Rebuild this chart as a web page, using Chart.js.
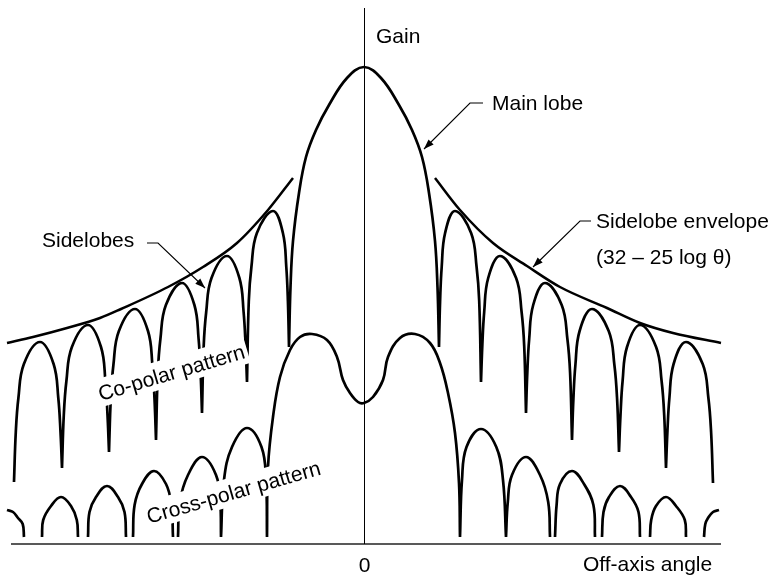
<!DOCTYPE html>
<html>
<head>
<meta charset="utf-8">
<script src="https://cdn.jsdelivr.net/npm/chart.js@4"></script>
<style>
html,body{margin:0;padding:0;background:#fff;}
#wrap{width:773px;height:575px;}
</style>
</head>
<body>
<div id="wrap"><canvas id="c" width="773" height="575"></canvas></div>
<script>
// ---- Data (x: off-axis angle, arbitrary units; y: gain, arbitrary units) ----
// Co-polar pattern: each inner list is one lobe (outer-left lobe first)
const coPolarLobesX = [
  [-35.0, -34.82, -34.56, -34.01, -32.4, -31.04, -30.57, -30.35, -30.2],
  [-30.2, -30.02, -29.76, -29.21, -27.6, -26.3, -25.86, -25.65, -25.5],
  [-25.5, -25.32, -25.06, -24.51, -22.9, -21.6, -21.16, -20.95, -20.8],
  [-20.8, -20.62, -20.36, -19.81, -18.2, -16.96, -16.54, -16.34, -16.2],
  [-16.2, -16.03, -15.78, -15.25, -13.7, -12.46, -12.04, -11.84, -11.7],
  [-11.7, -11.52, -11.26, -10.71, -9.1, -8.11, -7.77, -7.61, -7.5],
  [-7.5, -7.35, -7.1, -6.5, -5.8, -4.8, -3.5, -1.7, 0, 1.7, 3.5, 4.8, 5.8, 6.5, 7.1, 7.35, 7.5],
  [7.5, 7.61, 7.77, 8.11, 9.1, 10.71, 11.26, 11.52, 11.7],
  [11.7, 11.83, 12.02, 12.42, 13.6, 15.21, 15.76, 16.02, 16.2],
  [16.2, 16.33, 16.52, 16.92, 18.1, 19.77, 20.34, 20.61, 20.8],
  [20.8, 20.94, 21.14, 21.56, 22.8, 24.47, 25.04, 25.31, 25.5],
  [25.5, 25.65, 25.86, 26.3, 27.6, 29.21, 29.76, 30.02, 30.2],
  [30.2, 30.34, 30.54, 30.96, 32.2, 33.87, 34.44, 34.71, 34.9]
];
const coPolarLobesY = [
  [6.1, 11.1, 14.5, 17.9, 20.1, 17.9, 14.5, 11.1, 7.5],
  [7.5, 12.8, 16.2, 19.6, 21.8, 19.6, 16.2, 12.8, 9.1],
  [9.1, 14.4, 17.8, 21.2, 23.4, 21.2, 17.8, 14.4, 10.3],
  [10.3, 17.0, 20.4, 23.8, 26.0, 23.8, 20.4, 17.0, 13.0],
  [13.0, 19.7, 23.1, 26.5, 28.7, 26.5, 23.1, 19.7, 16.1],
  [16.1, 24.2, 27.6, 31.0, 33.2, 31.0, 27.6, 24.2, 19.6],
  [19.6, 25.6, 30.2, 35.0, 38.6, 41.3, 43.8, 46.5, 47.6, 46.5, 43.8, 41.3, 38.6, 35.0, 30.2, 25.6, 19.6],
  [19.6, 24.2, 27.6, 31.0, 33.2, 31.0, 27.6, 24.2, 16.1],
  [16.1, 19.7, 23.1, 26.5, 28.7, 26.5, 23.1, 19.7, 13.0],
  [13.0, 17.0, 20.4, 23.8, 26.0, 23.8, 20.4, 17.0, 10.3],
  [10.3, 14.4, 17.8, 21.2, 23.4, 21.2, 17.8, 14.4, 9.1],
  [9.1, 12.8, 16.2, 19.6, 21.8, 19.6, 16.2, 12.8, 7.5],
  [7.5, 11.1, 14.5, 17.9, 20.1, 17.9, 14.5, 11.1, 6.0]
];
// Cross-polar pattern lobes
const crossPolarLobesX = [
  [-35.7, -35.1, -34.6, -34.13, -34.0],
  [-32.2, -32.08, -31.3, -30.3, -29.3, -28.72, -28.6],
  [-27.6, -27.45, -26.8, -25.7, -24.6, -23.95, -23.8],
  [-23.1, -22.94, -22.2, -21.0, -19.8, -19.26, -19.1],
  [-18.6, -18.42, -17.6, -16.2, -14.8, -14.38, -14.3],
  [-14.3, -14.0, -13.2, -11.7, -10.25, -9.8, -9.7],
  [-9.7, -9.6, -9.1, -8.4, -7.4, -6.4, -5.2, -3.7, -2.7, -2.1, -1.4, -0.6, 0, 0.9, 1.9, 2.4, 3.6, 5.1, 6.6, 7.6, 8.4, 9.1, 9.5, 9.6],
  [9.6, 9.8, 10.25, 11.7, 13.23, 13.9, 14.2],
  [14.2, 14.38, 14.8, 16.2, 17.6, 18.42, 18.6],
  [19.1, 19.26, 19.6, 20.8, 22.0, 22.94, 23.1],
  [23.8, 23.95, 24.5, 25.6, 26.7, 27.45, 27.6],
  [28.6, 28.72, 29.2, 30.2, 31.2, 32.08, 32.2],
  [34.0, 34.13, 34.4, 34.9, 35.5]
];
const crossPolarLobesY = [
  [3.3, 3.1, 2.5, 1.9, 0.6],
  [0.6, 2.3, 3.7, 4.6, 3.7, 2.3, 0.6],
  [0.6, 3.1, 4.6, 5.7, 4.6, 3.1, 0.6],
  [0.6, 3.8, 5.9, 7.2, 5.9, 3.8, 0.6],
  [0.6, 4.1, 6.8, 8.6, 6.8, 4.1, 0.6],
  [0.6, 6.3, 9.6, 11.5, 9.6, 6.3, 0.6],
  [0.6, 7.6, 12.6, 16.6, 19.3, 20.6, 20.9, 20.3, 18.6, 16.3, 15.0, 14.1, 14.0, 14.6, 16.3, 18.6, 20.5, 20.9, 20.0, 18.0, 15.0, 11.0, 6.0, 0.6],
  [0.6, 6.3, 9.6, 11.4, 9.6, 6.3, 0.6],
  [0.6, 4.1, 6.8, 8.6, 6.8, 4.1, 0.6],
  [0.6, 3.8, 5.9, 7.2, 5.9, 3.8, 0.6],
  [0.6, 3.1, 4.6, 5.7, 4.6, 3.1, 0.6],
  [0.6, 2.3, 3.7, 4.6, 3.7, 2.3, 0.6],
  [0.6, 1.9, 2.5, 3.1, 3.3]
];
// Sidelobe envelope (32 - 25 log θ), left and right branches
const envelopeLeftX  = [-35.7, -33.1, -29.7, -26.4, -24.3, -19.6, -16.1, -12.7, -9.6, -7.1];
const envelopeLeftY  = [20.0, 20.6, 21.5, 22.5, 23.4, 25.6, 27.6, 30.0, 33.3, 36.5];
const envelopeRightX = [7.1, 9.6, 12.9, 16.3, 19.6, 24.3, 27.6, 30.9, 35.7];
const envelopeRightY = [36.5, 33.3, 30.0, 27.7, 25.6, 23.5, 22.0, 21.0, 20.0];
// Axes extents
const xAxisRange = [-35.3, 35.7];
const yAxisRange = [-0.1, 53.5];

// Text labels
const axisLabels = ['Gain', '0', 'Off-axis angle'];
const calloutLabels = ['Main lobe', 'Sidelobe envelope', '(32 \u2013 25 log \u03b8)', 'Sidelobes'];
const patternLabels = ['Co-polar pattern', 'Cross-polar pattern'];

// ---- Build library structures ----
function lobesToPoints(xs, ys) {
  const pts = [];
  xs.forEach((lx, i) => {
    if (i > 0) pts.push({x: lx[0], y: null});
    lx.forEach((x, j) => pts.push({x: x, y: ys[i][j]}));
  });
  return pts;
}
function zipPoints(xs, ys) { return xs.map((x, i) => ({x: x, y: ys[i]})); }

const lobeStyle = {
  borderColor: '#000', pointRadius: 0, fill: false, spanGaps: false,
  tension: 0.4, clip: false
};
const envStyle = {
  borderColor: '#000', pointRadius: 0, fill: false,
  cubicInterpolationMode: 'monotone', clip: false
};

const FONT = '21px "Liberation Sans", Arial, Helvetica, sans-serif';

// label placement (in data units)
const textPlacements = [
  {text: axisLabels[0], x: 1.2, y: 50.0, align: 'left'},
  {text: axisLabels[1], x: 0.05, y: -2.9, align: 'center'},
  {text: axisLabels[2], x: 21.9, y: -2.8, align: 'left'},
  {text: calloutLabels[0], x: 12.8, y: 43.3, align: 'left'},
  {text: calloutLabels[1], x: 23.2, y: 31.5, align: 'left'},
  {text: calloutLabels[2], x: 23.2, y: 27.9, align: 'left'},
  {text: calloutLabels[3], x: -32.2, y: 29.6, align: 'left'}
];
const rotatedPlacements = [
  {text: patternLabels[0], x: -19.05, y: 16.35, angle: -16.5},
  {text: patternLabels[1], x: -12.85, y: 4.4, angle: -16}
];
const leaders = [
  [[11.9, 44.0], [10.6, 44.0], [6.0, 39.4]],
  [[22.7, 32.2], [21.6, 32.2], [16.9, 27.6]],
  [[-21.7, 30.0], [-20.6, 30.0], [-15.9, 25.5]]
];

const annotPlugin = {
  id: 'annot',
  afterDatasetsDraw(chart) {
    const ctx = chart.ctx;
    const xs = chart.scales.x, ys = chart.scales.y;
    const px = v => xs.getPixelForValue(v), py = v => ys.getPixelForValue(v);
    ctx.save();
    ctx.font = FONT;
    rotatedPlacements.forEach(l => {
      ctx.save();
      ctx.translate(px(l.x), py(l.y));
      ctx.rotate(l.angle * Math.PI / 180);
      const m = ctx.measureText(l.text);
      const w = m.width;
      const asc = m.fontBoundingBoxAscent || 19;
      const desc = m.fontBoundingBoxDescent || 4.5;
      ctx.fillStyle = '#fff';
      ctx.fillRect(-w / 2 - 3, -asc - 3, w + 6, asc + desc + 5);
      ctx.fillStyle = '#000';
      ctx.textAlign = 'center';
      ctx.textBaseline = 'alphabetic';
      ctx.fillText(l.text, 0, 0);
      ctx.restore();
    });
    ctx.fillStyle = '#000';
    ctx.textBaseline = 'alphabetic';
    textPlacements.forEach(l => {
      ctx.textAlign = l.align;
      ctx.fillText(l.text, px(l.x), py(l.y));
    });
    ctx.strokeStyle = '#000';
    ctx.lineWidth = 1.1;
    leaders.forEach(seg => {
      ctx.beginPath();
      seg.forEach((p, i) => {
        const X = px(p[0]), Y = py(p[1]);
        if (i === 0) ctx.moveTo(X, Y); else ctx.lineTo(X, Y);
      });
      ctx.stroke();
      const a = seg[seg.length - 2], b = seg[seg.length - 1];
      const ax = px(a[0]), ay = py(a[1]), bx = px(b[0]), by = py(b[1]);
      const ang = Math.atan2(by - ay, bx - ax);
      const L = 10, H = 3.6;
      ctx.beginPath();
      ctx.moveTo(bx, by);
      ctx.lineTo(bx - L * Math.cos(ang) + H * Math.sin(ang), by - L * Math.sin(ang) - H * Math.cos(ang));
      ctx.lineTo(bx - L * Math.cos(ang) - H * Math.sin(ang), by - L * Math.sin(ang) + H * Math.cos(ang));
      ctx.closePath();
      ctx.fillStyle = '#000';
      ctx.fill();
    });
    ctx.restore();
  }
};

new Chart(document.getElementById('c'), {
  type: 'line',
  data: {
    datasets: [
      Object.assign({label: 'Co-polar pattern', data: lobesToPoints(coPolarLobesX, coPolarLobesY), borderWidth: 2.7}, lobeStyle),
      Object.assign({label: 'Cross-polar pattern', data: lobesToPoints(crossPolarLobesX, crossPolarLobesY), borderWidth: 2.7}, lobeStyle),
      Object.assign({label: 'Envelope L', data: zipPoints(envelopeLeftX, envelopeLeftY), borderWidth: 2.5}, envStyle),
      Object.assign({label: 'Envelope R', data: zipPoints(envelopeRightX, envelopeRightY), borderWidth: 2.5}, envStyle),
      {label: 'Gain axis', data: [{x: 0.05, y: yAxisRange[0]}, {x: 0.05, y: yAxisRange[1]}], borderColor: '#000', borderWidth: 1, pointRadius: 0, tension: 0, clip: false, order: 5},
      {label: 'Angle axis', data: [{x: xAxisRange[0], y: yAxisRange[0]}, {x: xAxisRange[1], y: yAxisRange[0]}], borderColor: '#595959', borderWidth: 2, pointRadius: 0, tension: 0, clip: false, order: 5}
    ]
  },
  options: {
    responsive: false,
    animation: false,
    devicePixelRatio: 1,
    events: [],
    layout: {padding: {left: 5, right: 50, top: 8, bottom: 30}},
    plugins: {legend: {display: false}, tooltip: {enabled: false}, title: {display: false}},
    scales: {
      x: {type: 'linear', display: false, min: -35.9, max: 35.9},
      y: {type: 'linear', display: false, min: -0.2, max: 53.5}
    }
  },
  plugins: [annotPlugin]
});
</script>
</body>
</html>
